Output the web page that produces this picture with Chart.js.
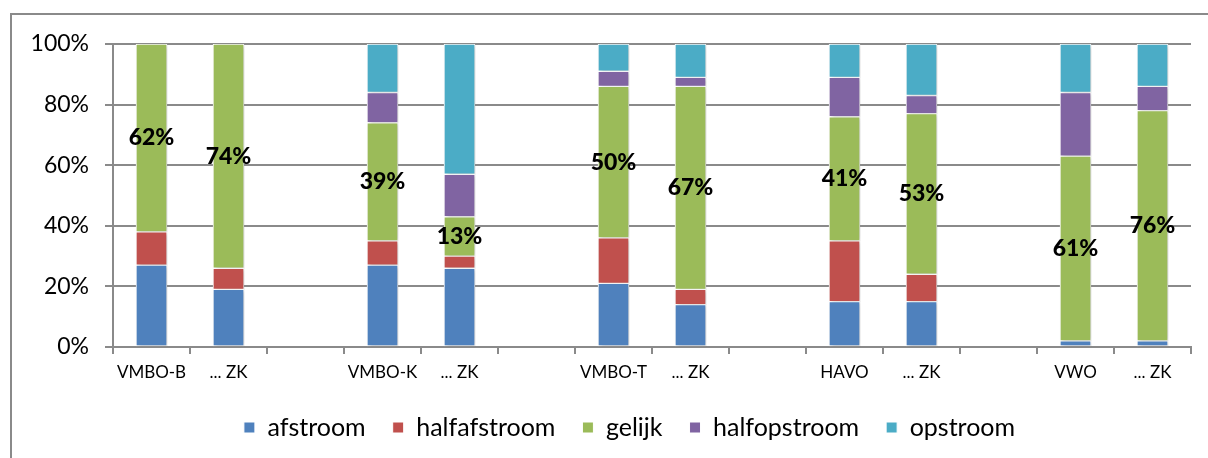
<!DOCTYPE html>
<html>
<head>
<meta charset="utf-8">
<script src="https://cdn.jsdelivr.net/npm/chart.js@4/dist/chart.umd.min.js"></script>
<style>
  html, body { margin: 0; padding: 0; background: #fff; }
  #wrap { position: relative; width: 1208px; height: 458px; overflow: hidden; }
  #frame { position: absolute; left: 10px; top: 13px; width: 1300px; height: 600px; border: 2px solid #8a8a8a; box-sizing: border-box; }
  #doorstroom { position: absolute; left: 0; top: 0; }
</style>
</head>
<body>
<div id="wrap">
  <div id="frame"></div>
  <canvas id="doorstroom" width="1208" height="458"></canvas>
</div>
<script>
// categories (empty strings are the gaps between school types)
let categories = ["VMBO-B", "... ZK", "", "VMBO-K", "... ZK", "", "VMBO-T", "... ZK", "", "HAVO", "... ZK", "", "VWO", "... ZK"];

// percentages per series
let afstroom     = [27, 19, null, 27, 26, null, 21, 14, null, 15, 15, null, 2, 2];
let halfafstroom = [11,  7, null,  8,  4, null, 15,  5, null, 20,  9, null, 0, 0];
let gelijk       = [62, 74, null, 39, 13, null, 50, 67, null, 41, 53, null, 61, 76];
let halfopstroom = [ 0,  0, null, 10, 14, null,  5,  3, null, 13,  6, null, 21, 8];
let opstroom     = [ 0,  0, null, 16, 43, null,  9, 11, null, 11, 17, null, 16, 14];

let yTicks = [0, 20, 40, 60, 80, 100];

let font = "Lato, 'Open Sans', sans-serif";

// Labels on the "gelijk" part of each bar
let gelijkLabels = {
  id: "gelijkLabels",
  afterDatasetsDraw(chart) {
    let ctx = chart.ctx;
    let meta = chart.getDatasetMeta(2);
    ctx.save();
    ctx.font = "900 23px " + font;
    ctx.fillStyle = "#000";
    ctx.textAlign = "center";
    ctx.textBaseline = "middle";
    meta.data.forEach(function(bar, i) {
      let v = gelijk[i];
      if (!v) return;
      ctx.fillText(v + "%", bar.x, (bar.y + bar.base) / 2);
    });
    ctx.restore();
  }
};

// light shadow behind the bars, like the original
let barShadow = {
  id: "barShadow",
  beforeDatasetsDraw(chart) {
    chart.ctx.save();
    chart.ctx.shadowColor = "rgba(0,0,0,0.22)";
    chart.ctx.shadowBlur = 4;
    chart.ctx.shadowOffsetX = 2;
    chart.ctx.shadowOffsetY = 1;
  },
  afterDatasetsDraw(chart) {
    chart.ctx.restore();
  }
};

// move the legend a bit to the right and up
let legendShift = {
  id: "legendShift",
  afterLayout(chart) {
    chart.legend.left += 34;
    chart.legend.right += 34;
    chart.legend.top -= 8;
    chart.legend.bottom -= 8;
  }
};

function series(label, data, color) {
  return {
    label: label,
    data: data,
    backgroundColor: color,
    borderColor: "#ffffff",
    borderWidth: 1,
    borderSkipped: false,
    barThickness: 31
  };
}

let ctx = document.getElementById("doorstroom");
let chart = new Chart(ctx, {
  type: "bar",
  data: {
    labels: categories,
    datasets: [
      series("afstroom", afstroom, "#4f81bd"),
      series("halfafstroom", halfafstroom, "#c0504d"),
      series("gelijk", gelijk, "#9bbb59"),
      series("halfopstroom", halfopstroom, "#8064a2"),
      series("opstroom", opstroom, "#4bacc6")
    ]
  },
  options: {
    responsive: false,
    animation: false,
    layout: { padding: { top: 44, right: 17, bottom: 0, left: 0 } },
    plugins: {
      tooltip: { enabled: false },
      legend: {
        position: "bottom",
        labels: {
          font: { family: font, size: 25 },
          color: "#000",
          boxWidth: 11,
          boxHeight: 11,
          padding: 27
        }
      }
    },
    scales: {
      x: {
        stacked: true,
        afterFit: function(scale) { scale.height = 49; },
        grid: {
          offset: true,
          drawOnChartArea: false,
          tickLength: 7,
          color: "#8a8a8a",
          lineWidth: 2
        },
        border: { color: "#8a8a8a", width: 2 },
        ticks: {
          font: { family: font, size: 17 },
          color: "#000",
          padding: 8,
          maxRotation: 0,
          autoSkip: false
        }
      },
      y: {
        stacked: true,
        min: 0,
        max: 100,
        afterFit: function(scale) { scale.width = 113; },
        afterBuildTicks: function(scale) {
          scale.ticks = yTicks.map(function(v) { return { value: v }; });
        },
        grid: {
          color: "#8a8a8a",
          lineWidth: 2,
          tickLength: 8
        },
        border: { color: "#8a8a8a", width: 2 },
        ticks: {
          font: { family: font, size: 23 },
          color: "#000",
          padding: 16,
          callback: function(v) { return v + "%"; }
        }
      }
    }
  },
  plugins: [barShadow, gelijkLabels, legendShift]
});
</script>
</body>
</html>
